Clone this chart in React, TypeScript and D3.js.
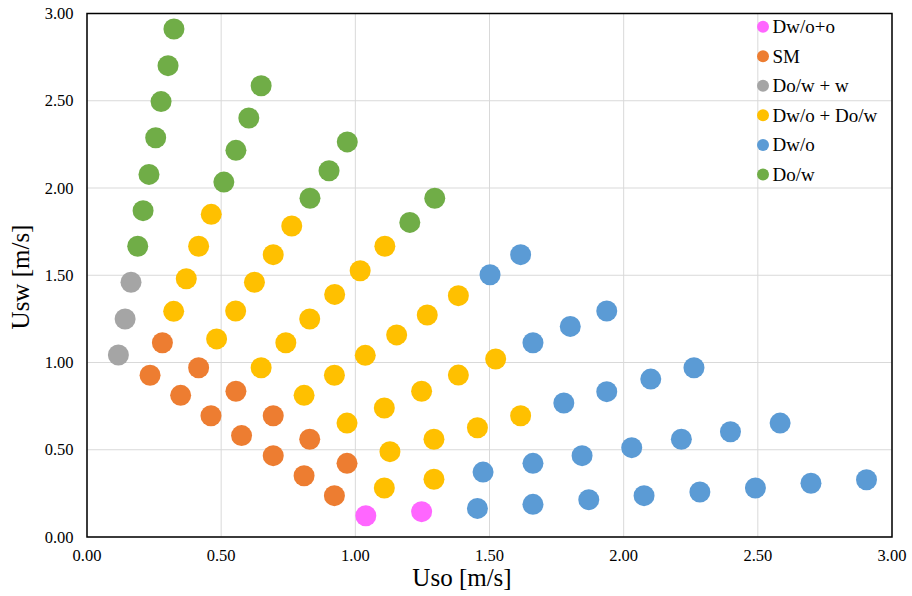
import React from "react";
import * as d3 from "d3";

const seriesNames = ["Dw/o+o", "SM", "Do/w + w", "Dw/o + Do/w", "Dw/o", "Do/w"];
const seriesColors = ["#FF66FF", "#ED7D31", "#A5A5A5", "#FFC000", "#5B9BD5", "#70AD47"];

const dwooX = [1.039, 1.247];
const dwooY = [0.122, 0.145];

const smX = [0.281, 0.235, 0.416, 0.349, 0.555, 0.462, 0.694, 0.576, 0.83, 0.694, 0.969, 0.809, 0.922];
const smY = [1.113, 0.927, 0.97, 0.812, 0.835, 0.695, 0.695, 0.581, 0.56, 0.466, 0.422, 0.351, 0.237];

const dowwX = [0.164, 0.142, 0.117];
const dowwY = [1.46, 1.249, 1.043];

const mixX = [
  0.323, 0.37, 0.416, 0.463,
  0.483, 0.554, 0.624, 0.694, 0.763,
  0.649, 0.741, 0.83, 0.923, 1.018, 1.11,
  0.809, 0.922, 1.037, 1.154, 1.268, 1.384,
  0.969, 1.108, 1.247, 1.384, 1.523,
  1.129, 1.293, 1.455, 1.616,
  1.108, 1.293,
];
const mixY = [
  1.293, 1.48, 1.666, 1.849,
  1.135, 1.295, 1.46, 1.618, 1.782,
  0.97, 1.113, 1.249, 1.39, 1.526, 1.666,
  0.812, 0.927, 1.041, 1.158, 1.272, 1.383,
  0.653, 0.739, 0.835, 0.928, 1.02,
  0.489, 0.56, 0.626, 0.695,
  0.281, 0.331,
];

const dwoX = [
  1.502, 1.616,
  1.662, 1.801, 1.937,
  1.777, 1.937, 2.101, 2.262,
  1.476, 1.662, 1.845, 2.03, 2.215, 2.398, 2.583,
  1.455, 1.662, 1.87, 2.076, 2.284, 2.491, 2.698, 2.905,
];
const dwoY = [
  1.503, 1.618,
  1.113, 1.207, 1.295,
  0.768, 0.833, 0.905, 0.97,
  0.372, 0.422, 0.466, 0.512, 0.56, 0.603, 0.653,
  0.164, 0.187, 0.214, 0.237, 0.258, 0.281, 0.308, 0.328,
];

const dowX = [
  0.324, 0.302, 0.276, 0.256, 0.231, 0.209, 0.189,
  0.649, 0.603, 0.555, 0.51,
  0.97, 0.902, 0.831,
  1.296, 1.203,
];
const dowY = [
  2.911, 2.701, 2.495, 2.288, 2.078, 1.87, 1.666,
  2.586, 2.401, 2.216, 2.034,
  2.264, 2.099, 1.941,
  1.941, 1.803,
];

const xTicks = [0, 0.5, 1, 1.5, 2, 2.5, 3];
const yTicks = [0, 0.5, 1, 1.5, 2, 2.5, 3];

const seriesX = [dwooX, smX, dowwX, mixX, dwoX, dowX];
const seriesY = [dwooY, smY, dowwY, mixY, dwoY, dowY];

const W = 912;
const H = 596;
const left = 87;
const right = 892;
const top = 13.5;
const bottom = 537;
const font = "'Liberation Serif', 'Times New Roman', serif";

export default function App() {
  const x = d3.scaleLinear().domain([0, 3]).range([left, right]);
  const y = d3.scaleLinear().domain([0, 3]).range([bottom, top]);
  const fmt = d3.format(".2f");

  return (
    <svg
      width={W}
      height={H}
      style={{ position: "absolute", left: 0, top: 0, background: "#fff", fontFamily: font }}
    >
      <rect x={0} y={0} width={W} height={H} fill="#fff" />
      {xTicks.map((t) => (
        <line key={"gx" + t} x1={x(t)} x2={x(t)} y1={top} y2={bottom} stroke="#d9d9d9" strokeWidth={1} />
      ))}
      {yTicks.map((t) => (
        <line key={"gy" + t} x1={left} x2={right} y1={y(t)} y2={y(t)} stroke="#d9d9d9" strokeWidth={1} />
      ))}
      <rect x={left} y={top} width={right - left} height={bottom - top} fill="none" stroke="#000" strokeWidth={1.5} />
      {xTicks.map((t) => (
        <text key={"tx" + t} x={x(t)} y={561} fontSize={16.5} textAnchor="middle" fill="#000">
          {fmt(t)}
        </text>
      ))}
      {yTicks.map((t) => (
        <text key={"ty" + t} x={73.5} y={y(t) + 5.5} fontSize={16.5} textAnchor="end" fill="#000">
          {fmt(t)}
        </text>
      ))}
      <text x={462} y={586} fontSize={25} textAnchor="middle" fill="#000">
        Uso [m/s]
      </text>
      <text
        x={0}
        y={0}
        fontSize={25}
        textAnchor="middle"
        fill="#000"
        transform={`translate(29, 277) rotate(-90)`}
      >
        Usw [m/s]
      </text>
      {seriesNames.map((name, si) => (
        <g key={name}>
          {seriesX[si].map((vx, i) => (
            <circle key={i} cx={x(vx)} cy={y(seriesY[si][i])} r={10.5} fill={seriesColors[si]} />
          ))}
        </g>
      ))}
      {seriesNames.map((name, si) => (
        <g key={"lg" + name} transform={`translate(763, ${26.7 + si * 29.55})`}>
          <circle cx={0} cy={0} r={6} fill={seriesColors[si]} />
          <text x={9.5} y={6.5} fontSize={19} fill="#000">
            {name}
          </text>
        </g>
      ))}
    </svg>
  );
}
